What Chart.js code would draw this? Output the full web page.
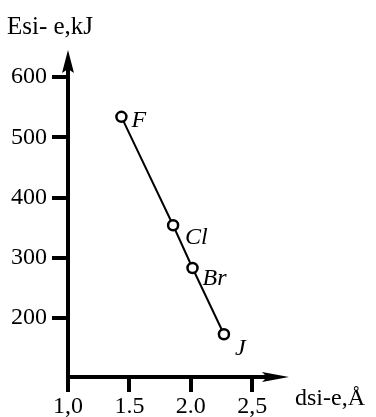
<!DOCTYPE html>
<html>
<head>
<meta charset="utf-8">
<script src="https://cdn.jsdelivr.net/npm/chart.js@4.4.2/dist/chart.umd.min.js"></script>
<style>
  html, body { margin: 0; padding: 0; background: #fff; }
  #chart { display: block; }
</style>
</head>
<body>
<canvas id="chart" width="376" height="417"></canvas>
<script>
// Si–halogen bond energy against bond length
const elements = ['F', 'Cl', 'Br', 'J'];
const bondLength = [1.435, 1.856, 2.014, 2.27];
const bondEnergy = [534, 354, 283, 173];
const xTickValues = [1.0, 1.5, 2.0, 2.5];
const xTickLabels = ['1,0', '1.5', '2.0', '2,5'];
const yTickValues = [200, 300, 400, 500, 600];
const yTitle = 'Esi- e,kJ';
const xTitle = 'dsi-e,Å';

const serif = '"Liberation Serif", "DejaVu Serif", serif';
const ink = '#000';

// axes with arrowheads plus the two axis titles
const arrowAxes = {
  id: 'arrowAxes',
  afterDraw(chart) {
    const { ctx, chartArea: a } = chart;
    ctx.save();
    ctx.strokeStyle = ink;
    ctx.fillStyle = ink;
    ctx.lineWidth = 4;
    ctx.lineCap = 'butt';
    ctx.beginPath();
    ctx.moveTo(a.left, a.bottom + 2);
    ctx.lineTo(a.left, a.top + 18);
    ctx.moveTo(a.left - 2, a.bottom);
    ctx.lineTo(a.right - 20, a.bottom);
    ctx.stroke();

    // up arrow
    ctx.beginPath();
    ctx.moveTo(a.left, a.top);
    ctx.lineTo(a.left + 6, a.top + 23);
    ctx.lineTo(a.left, a.top + 19);
    ctx.lineTo(a.left - 6, a.top + 23);
    ctx.closePath();
    ctx.fill();

    // right arrow
    ctx.beginPath();
    ctx.moveTo(a.right, a.bottom);
    ctx.lineTo(a.right - 27, a.bottom - 5);
    ctx.lineTo(a.right - 22, a.bottom);
    ctx.lineTo(a.right - 27, a.bottom + 5);
    ctx.closePath();
    ctx.fill();

    ctx.font = '25px ' + serif;
    ctx.textBaseline = 'alphabetic';
    ctx.textAlign = 'left';
    ctx.fillText(yTitle, 7, 34);
    ctx.font = '24px ' + serif;
    ctx.fillText(xTitle, 295, 405);
    ctx.restore();
  }
};

// element names next to each point
const labelOffsets = [[10, 10], [12, 19], [10, 17], [11, 21]];
const pointNames = {
  id: 'pointNames',
  afterDatasetsDraw(chart) {
    const { ctx } = chart;
    const meta = chart.getDatasetMeta(0);
    ctx.save();
    ctx.fillStyle = ink;
    ctx.font = 'italic 24px ' + serif;
    ctx.textAlign = 'left';
    ctx.textBaseline = 'alphabetic';
    meta.data.forEach((pt, i) => {
      const [dx, dy] = labelOffsets[i];
      ctx.fillText(elements[i], pt.x + dx, pt.y + dy);
    });
    ctx.restore();
  }
};

new Chart(document.getElementById('chart'), {
  type: 'scatter',
  data: {
    datasets: [{
      data: bondLength.map((x, i) => ({ x, y: bondEnergy[i] })),
      showLine: true,
      borderColor: ink,
      borderWidth: 2,
      pointRadius: 5,
      pointBorderWidth: 2.5,
      pointBorderColor: ink,
      pointBackgroundColor: '#fff'
    }]
  },
  options: {
    responsive: false,
    animation: false,
    devicePixelRatio: 1,
    layout: { padding: { top: 50, right: 87, left: 0, bottom: 0 } },
    plugins: {
      legend: { display: false },
      tooltip: { enabled: false }
    },
    scales: {
      x: {
        type: 'linear',
        min: 1.0,
        max: 2.8,
        afterBuildTicks: s => { s.ticks = xTickValues.map(value => ({ value })); },
        afterFit: s => { s.height = 40; },
        border: { display: false },
        grid: {
          drawOnChartArea: false,
          drawTicks: true,
          tickLength: 15,
          lineWidth: 4,
          color: ink
        },
        ticks: {
          autoSkip: false,
          maxRotation: 0,
          padding: 0,
          color: ink,
          font: { family: serif, size: 24 },
          callback: (v, i) => xTickLabels[i]
        }
      },
      y: {
        type: 'linear',
        min: 102,
        max: 645,
        afterBuildTicks: s => { s.ticks = yTickValues.map(value => ({ value })); },
        afterFit: s => { s.width = 68; },
        border: { display: false },
        grid: {
          drawOnChartArea: false,
          drawTicks: true,
          tickLength: 16,
          lineWidth: 4,
          color: ink
        },
        ticks: {
          padding: 5,
          color: ink,
          font: { family: serif, size: 24 },
          callback: v => String(v)
        }
      }
    }
  },
  plugins: [arrowAxes, pointNames]
});
</script>
</body>
</html>
